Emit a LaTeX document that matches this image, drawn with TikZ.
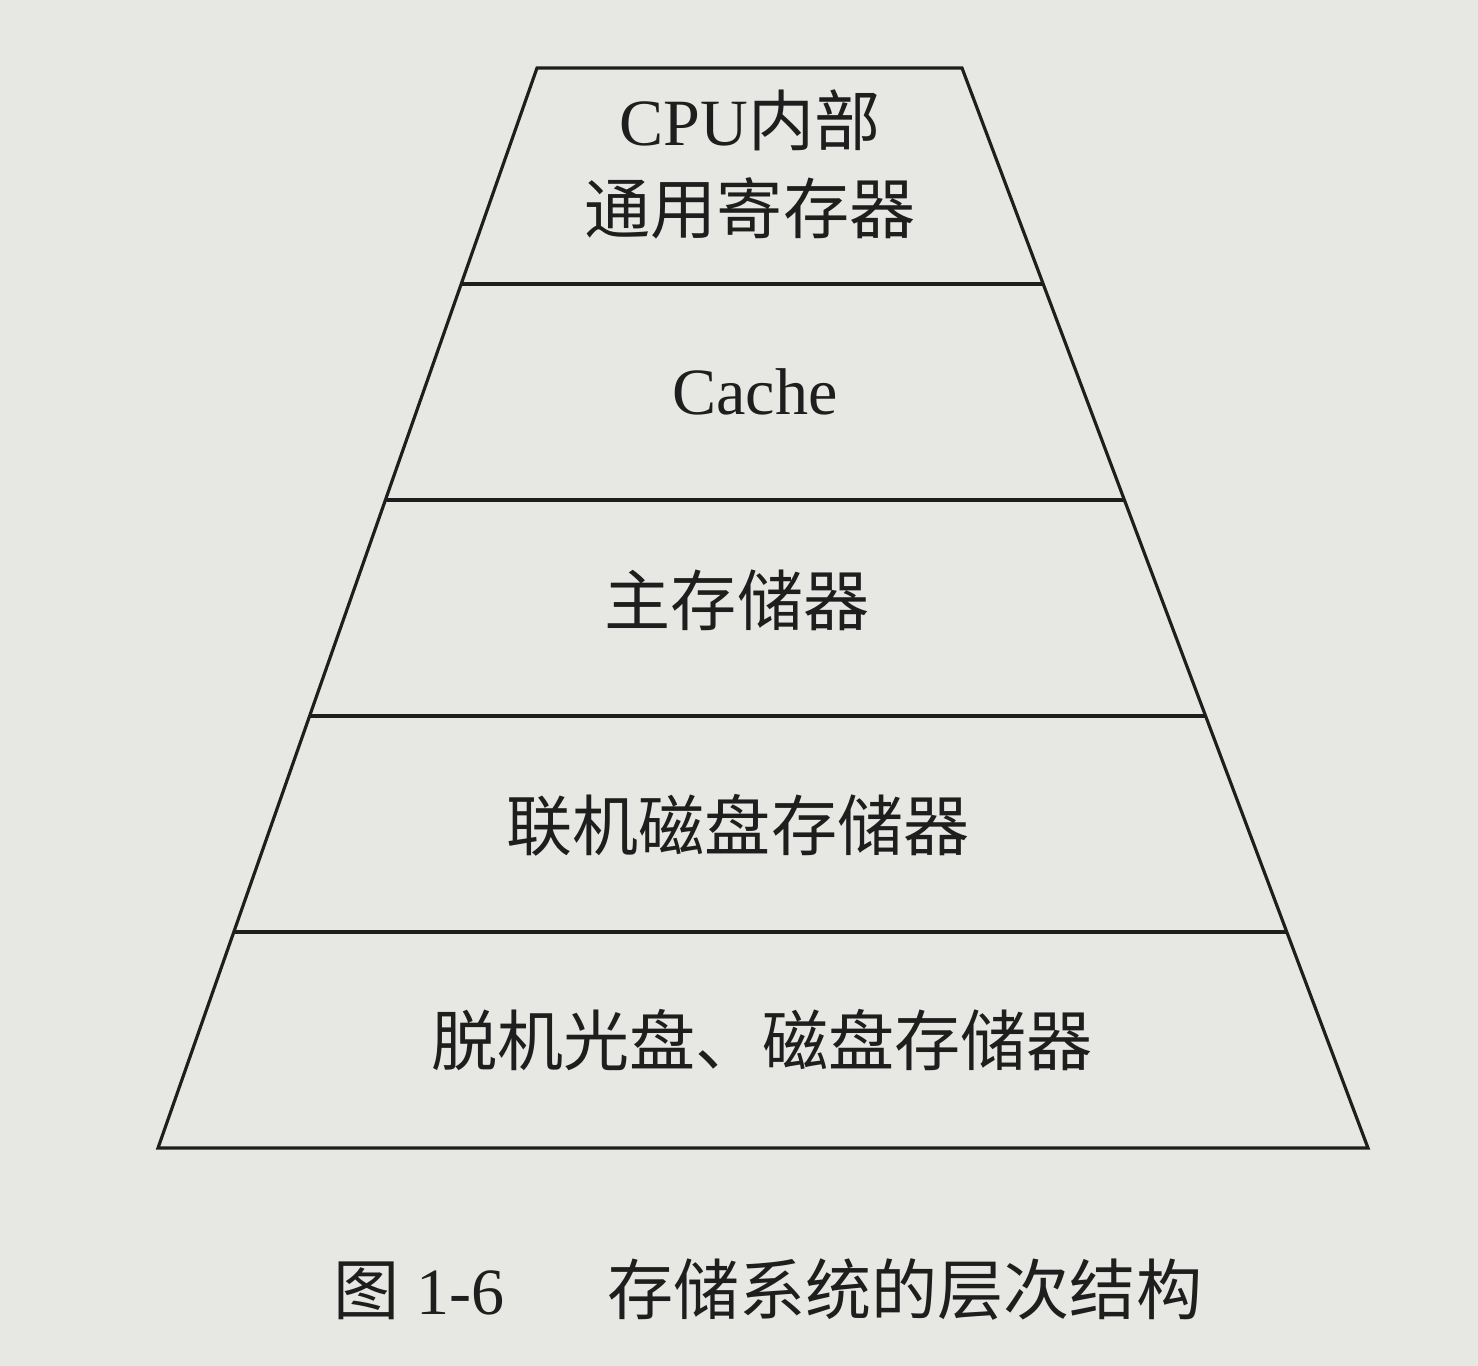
\documentclass[tikz,border=0pt]{standalone}
\usepackage{fontspec}
\setmainfont{Liberation Serif}
\newfontfamily\cjk{Noto Sans CJK SC}
\usetikzlibrary{calc,positioning}
\definecolor{paper}{RGB}{231,231,227}
\definecolor{ink}{RGB}{30,30,30}

\begin{document}
\begin{tikzpicture}[
    x=0.01cm, y=-0.01cm,
    layer/.style={ink, line width=0.9pt},
    every node/.style={text=ink, font=\fontsize{18.8}{24}\selectfont, inner sep=0pt}
  ]
  \fill[paper] (0,0) rectangle (1478,1366);
  \useasboundingbox (0,0) rectangle (1478,1366);
  % pyramid outline
  \coordinate (tl) at (537,68);
  \coordinate (tr) at (962,68);
  \coordinate (bl) at (158,1148);
  \coordinate (br) at (1368,1148);
  \draw[layer] (tl) -- (tr) -- (br) -- (bl) -- cycle;
  % level dividers
  \foreach \t/\i in {0.2/1,0.4/2,0.6/3,0.8/4} {
    \coordinate (l\i) at ($(tl)!\t!(bl)$);
    \coordinate (r\i) at ($(tr)!\t!(br)$);
    \draw[layer] (l\i) -- (r\i);
  }
  % level labels
  \node (cpu) at (750,120) {CPU{\cjk 内部}};
  \node (reg) at (750,208) {\cjk 通用寄存器};
  \node (cache) at (755,392) {Cache};
  \node (mem) at (737,600) {\cjk 主存储器};
  \node (disk) at (738,825) {\cjk 联机磁盘存储器};
  \node (offline) at (762,1040) {\cjk 脱机光盘、磁盘存储器};
  % caption
  \node (caption) at (768,1290) {{\cjk 图} 1-6\hspace{1.55em}{\cjk 存储系统的层次结构}};
\end{tikzpicture}
\end{document}
